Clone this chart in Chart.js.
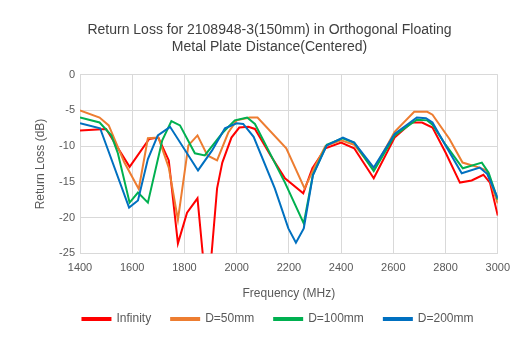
<!DOCTYPE html>
<html>
<head>
<meta charset="utf-8">
<script src="https://cdn.jsdelivr.net/npm/chart.js@4/dist/chart.umd.min.js"></script>
<style>
  html, body { margin: 0; padding: 0; background: #ffffff; }
  #wrap { width: 518px; height: 345px; }
</style>
</head>
<body>
<div id="wrap"><canvas id="rlChart" width="518" height="345"></canvas></div>
<script>
// Dados (frequência em MHz, perda de retorno em dB)
const seriesNames = ['Infinity', 'D=50mm', 'D=100mm', 'D=200mm'];
const seriesColors = ['#ff0000', '#ed7d31', '#00b050', '#0070c0'];

const freqInf = [1400, 1450, 1500, 1590, 1665, 1700, 1740, 1775, 1810, 1850, 1888, 1925, 1945, 1980, 2010, 2045, 2070, 2130, 2185, 2255, 2290, 2340, 2400, 2450, 2525, 2605, 2670, 2710, 2750, 2800, 2855, 2900, 2945, 2970, 3000];
const lossInf = [-7.8, -7.7, -7.6, -12.9, -9.0, -8.8, -12.0, -23.6, -19.3, -17.3, -32.0, -15.9, -12.3, -8.8, -7.4, -7.3, -7.6, -11.3, -14.5, -16.6, -13.1, -10.3, -9.5, -10.3, -14.5, -8.8, -6.7, -6.7, -7.4, -10.9, -15.1, -14.8, -14.0, -15.1, -19.7];

const freq50 = [1400, 1475, 1510, 1570, 1625, 1660, 1700, 1740, 1775, 1815, 1850, 1888, 1925, 1968, 2000, 2050, 2080, 2190, 2260, 2300, 2340, 2400, 2450, 2525, 2605, 2680, 2730, 2750, 2815, 2865, 2930, 2957, 3000];
const loss50 = [-5.0, -6.0, -7.1, -12.3, -16.0, -8.9, -8.8, -13.0, -20.3, -9.9, -8.5, -11.3, -12.0, -8.1, -6.4, -6.0, -6.0, -10.3, -15.9, -12.8, -10.0, -9.2, -9.8, -13.3, -8.0, -5.2, -5.2, -5.6, -9.0, -12.3, -13.0, -13.4, -18.0];

const freq100 = [1400, 1475, 1520, 1545, 1590, 1622, 1660, 1715, 1750, 1783, 1840, 1878, 1947, 1993, 2040, 2070, 2185, 2257, 2292, 2345, 2405, 2450, 2525, 2605, 2690, 2730, 2750, 2800, 2866, 2939, 2965, 3000];
const loss100 = [-6.0, -6.7, -8.5, -11.0, -17.9, -16.5, -17.9, -9.2, -6.5, -7.1, -11.0, -11.3, -8.1, -6.4, -6.0, -6.9, -15.1, -20.8, -14.0, -9.8, -8.9, -9.5, -13.5, -8.5, -6.3, -6.4, -7.0, -9.8, -13.1, -12.3, -13.7, -17.5];

const freq200 = [1400, 1477, 1588, 1622, 1660, 1698, 1745, 1852, 1906, 1955, 2000, 2025, 2065, 2146, 2198, 2227, 2257, 2292, 2345, 2407, 2450, 2525, 2605, 2690, 2725, 2750, 2800, 2862, 2931, 2960, 3000];
const loss200 = [-6.8, -7.5, -18.6, -17.6, -11.8, -8.5, -7.3, -13.4, -10.6, -7.5, -6.8, -6.9, -8.7, -15.9, -21.5, -23.5, -21.5, -14.1, -9.9, -8.8, -9.5, -13.0, -8.3, -6.0, -6.1, -6.7, -9.9, -13.8, -13.0, -13.9, -17.3];

const xTicks = [1400, 1600, 1800, 2000, 2200, 2400, 2600, 2800, 3000];
const yTicks = [0, -5, -10, -15, -20, -25];

const allFreqs = [freqInf, freq50, freq100, freq200];
const allLoss = [lossInf, loss50, loss100, loss200];

// Monta os pontos {x, y} para cada série
function buildPoints(fs, ls) {
    return fs.map((f, i) => ({ x: f, y: ls[i] }));
}

const fontFam = '"Liberation Sans", Arial, sans-serif';
const gridColor = '#d9d9d9';
const textColor = '#595959';

// Desloca o título e a legenda um pouco para a direita (centrados como no original)
const shiftBlocks = {
    id: 'shiftBlocks',
    afterLayout(chart) {
        if (chart.titleBlock) chart.titleBlock.left += 13;
        if (chart.legend) chart.legend.left += 30;
    }
};

function initChart() {
    const ctx = document.getElementById('rlChart').getContext('2d');
    const datasets = seriesNames.map((name, i) => ({
        label: name,
        data: buildPoints(allFreqs[i], allLoss[i]),
        borderColor: seriesColors[i],
        backgroundColor: seriesColors[i],
        borderWidth: 2,
        pointRadius: 0,
        showLine: true,
        tension: 0,
        order: seriesNames.length - i
    }));

    new Chart(ctx, {
        type: 'scatter',
        data: { datasets: datasets },
        plugins: [shiftBlocks],
        options: {
            responsive: false,
            animation: false,
            layout: { padding: { left: 28, right: 20, top: 10, bottom: 10 } },
            plugins: {
                title: {
                    display: true,
                    text: ['Return Loss for 2108948-3(150mm) in Orthogonal Floating', 'Metal Plate Distance(Centered)'],
                    color: '#404040',
                    font: { family: fontFam, size: 14, weight: 'normal' },
                    padding: { top: 12, bottom: 19 }
                },
                legend: {
                    position: 'bottom',
                    labels: {
                        boxWidth: 28,
                        boxHeight: 2,
                        color: textColor,
                        padding: 20,
                        font: { family: fontFam, size: 12 },
                        sort: (a, b) => a.datasetIndex - b.datasetIndex
                    }
                },
                tooltip: { enabled: false }
            },
            scales: {
                x: {
                    type: 'linear',
                    min: xTicks[0],
                    max: xTicks[xTicks.length - 1],
                    afterBuildTicks: axis => { axis.ticks = xTicks.map(v => ({ value: v })); },
                    ticks: {
                        color: textColor,
                        font: { family: fontFam, size: 11 },
                        callback: v => String(v),
                        maxRotation: 0,
                        padding: 8
                    },
                    grid: { color: gridColor, drawTicks: false },
                    border: { color: gridColor },
                    title: {
                        display: true,
                        text: 'Frequency (MHz)',
                        color: textColor,
                        font: { family: fontFam, size: 12 },
                        padding: { top: 4, bottom: -8 }
                    }
                },
                y: {
                    min: yTicks[yTicks.length - 1],
                    max: yTicks[0],
                    afterBuildTicks: axis => { axis.ticks = yTicks.slice().reverse().map(v => ({ value: v })); },
                    ticks: {
                        color: textColor,
                        font: { family: fontFam, size: 11 },
                        padding: 5
                    },
                    grid: { color: gridColor, drawTicks: false },
                    border: { color: gridColor },
                    title: {
                        display: true,
                        text: 'Return Loss (dB)',
                        color: textColor,
                        font: { family: fontFam, size: 12 },
                        padding: { top: 5, bottom: 4 }
                    },
                    afterFit: axis => { axis.width = 52; }
                }
            }
        }
    });
}

window.onload = function() {
    initChart();
};
</script>
</body>
</html>
